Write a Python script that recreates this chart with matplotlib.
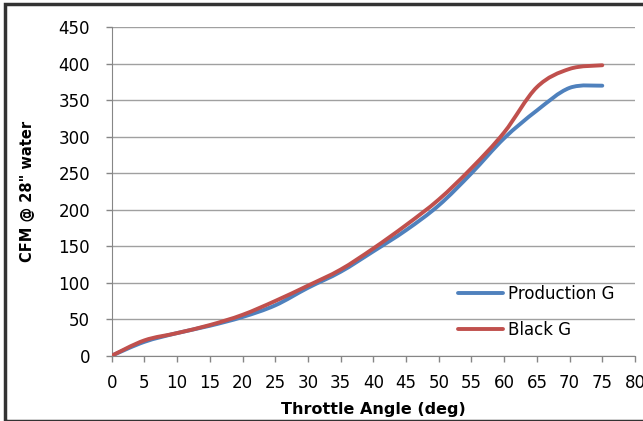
import matplotlib.pyplot as plt
from matplotlib.patches import Rectangle, PathPatch
from matplotlib.path import Path
from matplotlib.lines import Line2D

angle = [0, 5, 10, 15, 20, 25, 30, 35, 40, 45, 50, 55, 60, 65, 70, 75]
production_g = [0, 19, 31, 41, 53, 69, 93, 115, 143, 172, 206, 250, 298, 336, 367, 370]
black_g = [0, 21, 31, 42, 56, 75, 96, 118, 147, 179, 214, 257, 306, 368, 393, 398]

x_ticks = list(range(0, 85, 5))
y_ticks = list(range(0, 500, 50))

plt.rcParams['font.family'] = ['DejaVu Sans']


def smooth_path(xs, ys):
    # Excel-style smoothed line: cubic bezier through the points
    pts = list(zip(xs, ys))
    verts = [pts[0]]
    codes = [Path.MOVETO]
    n = len(pts)
    for i in range(n - 1):
        p0 = pts[max(i - 1, 0)]
        p1 = pts[i]
        p2 = pts[i + 1]
        p3 = pts[min(i + 2, n - 1)]
        c1 = (p1[0] + (p2[0] - p0[0]) / 6, p1[1] + (p2[1] - p0[1]) / 6)
        c2 = (p2[0] - (p3[0] - p1[0]) / 6, p2[1] - (p3[1] - p1[1]) / 6)
        verts += [c1, c2, p2]
        codes += [Path.CURVE4] * 3
    return Path(verts, codes)


fig = plt.figure(figsize=(6.43, 4.21), dpi=100)
ax = fig.add_axes([111.7 / 643, 1 - 355.7 / 421, 523.3 / 643, 328.4 / 421])

series = [('Production G', production_g, '#4F81BD'), ('Black G', black_g, '#C0504D')]
handles = []
for name, vals, col in series:
    ax.add_patch(PathPatch(smooth_path(angle, vals), fill=False, edgecolor=col,
                           lw=2.8, capstyle='round', joinstyle='round', zorder=3))
    handles.append(Line2D([], [], color=col, lw=2.8, solid_capstyle='round'))

ax.set_xlim(0, 80)
ax.set_ylim(0, 450)
ax.set_xticks(x_ticks)
ax.set_yticks(y_ticks)
ax.tick_params(axis='both', labelsize=12, colors='#000000', length=4.5, width=1)
ax.tick_params(axis='x', color='#868686', pad=9)
ax.tick_params(axis='y', color='#868686', pad=11)
ax.yaxis.grid(True, color='#a0a0a0', lw=1)
ax.set_axisbelow(True)
for side in ['top', 'right']:
    ax.spines[side].set_visible(False)
for side in ['left', 'bottom']:
    ax.spines[side].set_color('#868686')

ax.set_xlabel('Throttle Angle (deg)', fontsize=11.5, fontweight='bold', labelpad=7)
ax.set_ylabel('CFM @ 28" water', fontsize=10.5, fontweight='bold', labelpad=17)

ax.legend(handles, [s[0] for s in series], loc='center left',
          bbox_to_anchor=(0.662, 0.133), frameon=False, fontsize=12,
          handlelength=2.7, handletextpad=0.3, labelspacing=1.05,
          borderpad=0, borderaxespad=0)

fig.patches.append(Rectangle((4.5 / 643, 0.5 / 421), 1.0, 1 - 4.5 / 421,
                             transform=fig.transFigure, fill=False,
                             edgecolor='#333333', lw=2.5))

fig.savefig('out.png', dpi=100)
